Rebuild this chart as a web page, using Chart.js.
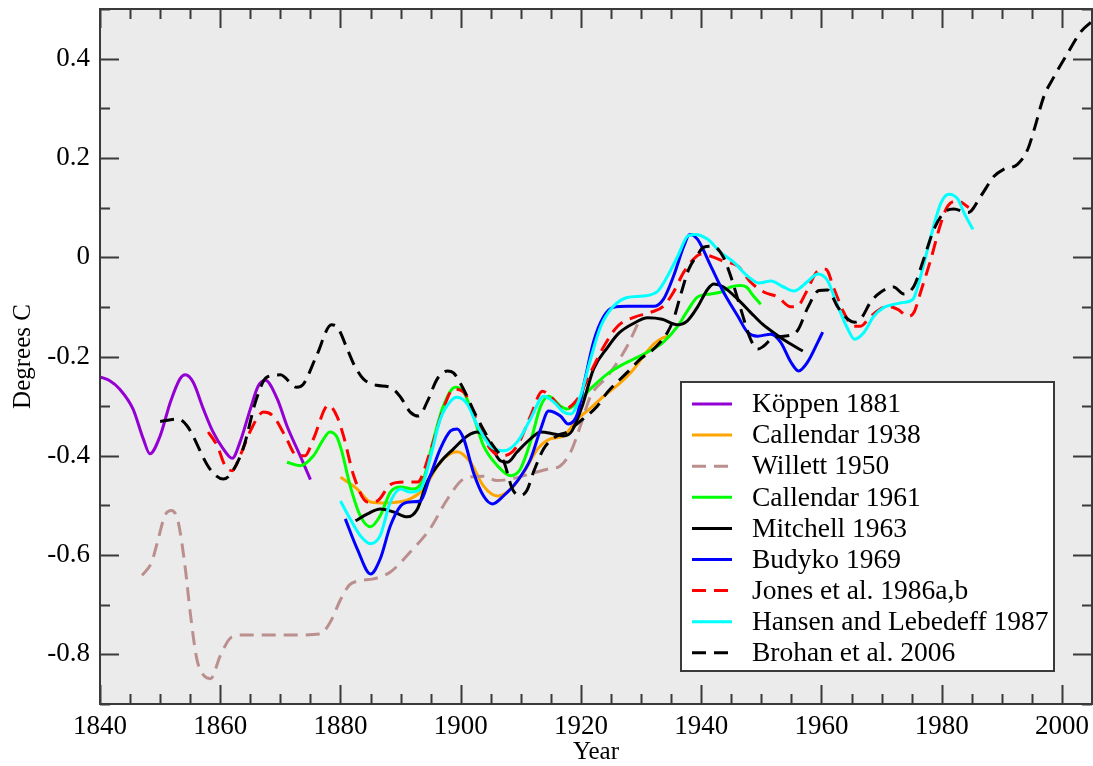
<!DOCTYPE html>
<html>
<head>
<meta charset="utf-8">
<script src="https://cdn.jsdelivr.net/npm/chart.js@4/dist/chart.umd.min.js"></script>
<style>
  html, body { margin: 0; padding: 0; background: #fff; }
  #wrap { width: 1093px; height: 766px; }
</style>
</head>
<body>
<div id="wrap"><canvas id="chart" width="1093" height="766"></canvas></div>
<script>
'use strict';

// ─── Data ────────────────────────────────────────────────────────
const xTickValues = [1840, 1860, 1880, 1900, 1920, 1940, 1960, 1980, 2000];
const yTickValues = [-0.8, -0.6, -0.4, -0.2, 0, 0.2, 0.4];

const koppenYears = [1840, 1841.5, 1843.3, 1845.5, 1847.2, 1848.3, 1850, 1851.7, 1853.3, 1854.2, 1855.5, 1857.2, 1858.8, 1860.5, 1862, 1863.3, 1865, 1866.3, 1867.5, 1869.5, 1871.1, 1873.3, 1875];
const koppenVals  = [-0.241, -0.248, -0.266, -0.306, -0.366, -0.396, -0.36, -0.292, -0.245, -0.237, -0.252, -0.306, -0.352, -0.386, -0.405, -0.372, -0.306, -0.26, -0.248, -0.286, -0.34, -0.4, -0.448];

const callendar38Years = [1880, 1882.8, 1885, 1887.8, 1891.6, 1893.8, 1896.6, 1899.4, 1901.6, 1903.8, 1906.1, 1908.3, 1910.5, 1912.8, 1914.9, 1917.1, 1919.4, 1921.5, 1923.8, 1926.6, 1928.8, 1930.4, 1932.1, 1933.7, 1934.8];
const callendar38Vals  = [-0.443, -0.467, -0.493, -0.495, -0.487, -0.467, -0.413, -0.392, -0.413, -0.461, -0.481, -0.467, -0.433, -0.386, -0.366, -0.36, -0.326, -0.305, -0.28, -0.252, -0.225, -0.199, -0.175, -0.162, -0.159];

const willettYears = [1847, 1848.6, 1849.7, 1850.8, 1851.9, 1853, 1854.2, 1855, 1856.1, 1857.3, 1858.4, 1860, 1861.9, 1863.8, 1868, 1873, 1876.6, 1878.3, 1880, 1881.5, 1883, 1885.5, 1888.3, 1891.6, 1894.9, 1897.8, 1900.5, 1903.8, 1906, 1909, 1912, 1914.4, 1916.6, 1918.3, 1919.9, 1921.6, 1924.4, 1927.7, 1929.6];
const willettVals  = [-0.641, -0.614, -0.567, -0.52, -0.51, -0.533, -0.628, -0.715, -0.809, -0.843, -0.849, -0.803, -0.765, -0.761, -0.761, -0.761, -0.759, -0.735, -0.69, -0.66, -0.652, -0.648, -0.634, -0.594, -0.547, -0.487, -0.447, -0.441, -0.45, -0.445, -0.435, -0.427, -0.42, -0.392, -0.34, -0.28, -0.24, -0.179, -0.13];

const callendar61Years = [1871.1, 1873.3, 1875.5, 1877, 1878.2, 1879.4, 1880.2, 1881.6, 1883.3, 1885, 1886.6, 1888.3, 1890, 1892.1, 1893.8, 1895.5, 1897.1, 1899.1, 1900.5, 1902.1, 1903.8, 1906.1, 1908.3, 1909.9, 1911.6, 1913.3, 1914.6, 1916.6, 1917.7, 1919.4, 1921.6, 1924.4, 1927.1, 1928.8, 1931.1, 1933.7, 1936.1, 1937.7, 1939.4, 1941.6, 1943.3, 1944.9, 1946.5, 1947.5, 1948.7, 1949.9];
const callendar61Vals  = [-0.413, -0.42, -0.4, -0.37, -0.352, -0.362, -0.39, -0.46, -0.521, -0.543, -0.521, -0.473, -0.463, -0.467, -0.447, -0.366, -0.3, -0.262, -0.272, -0.32, -0.38, -0.42, -0.44, -0.427, -0.372, -0.3, -0.28, -0.3, -0.306, -0.292, -0.265, -0.235, -0.215, -0.205, -0.191, -0.171, -0.139, -0.108, -0.08, -0.074, -0.07, -0.06, -0.057, -0.06, -0.078, -0.095];

const mitchellYears = [1882.5, 1884.5, 1886.6, 1888.8, 1891.1, 1892.8, 1894.4, 1896.6, 1898.8, 1901.1, 1902.8, 1904.4, 1906.6, 1907.8, 1909.4, 1911.6, 1913.3, 1915.5, 1917.1, 1918.5, 1920.2, 1922.1, 1924.4, 1926.3, 1928.8, 1931.1, 1933.5, 1936, 1937.7, 1939.4, 1941.1, 1942.1, 1943.7, 1946.1, 1948.2, 1950.2, 1952.4, 1954.6, 1956.9];
const mitchellVals  = [-0.531, -0.517, -0.507, -0.513, -0.523, -0.507, -0.453, -0.413, -0.386, -0.36, -0.352, -0.366, -0.41, -0.413, -0.392, -0.366, -0.352, -0.356, -0.36, -0.35, -0.3, -0.225, -0.182, -0.153, -0.133, -0.122, -0.125, -0.136, -0.128, -0.1, -0.064, -0.054, -0.06, -0.085, -0.111, -0.135, -0.155, -0.173, -0.189];

const budykoYears = [1880.8, 1882.8, 1885, 1886.6, 1888.3, 1890, 1891.6, 1893.3, 1894.9, 1896.6, 1898.3, 1899.4, 1900.5, 1902.1, 1903.8, 1905.3, 1907.1, 1909.4, 1911.6, 1913.3, 1914.6, 1916.6, 1917.9, 1919.4, 1920.6, 1922.1, 1923.8, 1925.4, 1927.7, 1929.9, 1932.1, 1933.7, 1935.4, 1937.1, 1938.1, 1939.4, 1941.6, 1943.7, 1946.1, 1947.7, 1949.4, 1951.6, 1953.2, 1954.9, 1956.2, 1957.7, 1959.4, 1960.2];
const budykoVals  = [-0.527, -0.588, -0.638, -0.608, -0.541, -0.501, -0.493, -0.491, -0.441, -0.386, -0.35, -0.346, -0.366, -0.433, -0.481, -0.497, -0.481, -0.451, -0.407, -0.346, -0.31, -0.32, -0.336, -0.316, -0.25, -0.17, -0.119, -0.101, -0.099, -0.099, -0.099, -0.085, -0.038, 0.022, 0.046, 0.036, -0.018, -0.07, -0.119, -0.151, -0.159, -0.155, -0.171, -0.211, -0.229, -0.211, -0.171, -0.151];

const jonesYears = [1858, 1859.5, 1860.8, 1862, 1863.3, 1865, 1867.2, 1868.8, 1870.8, 1872.8, 1874.1, 1875.5, 1878, 1879.4, 1880.5, 1882.2, 1884.5, 1886.1, 1888.3, 1890.5, 1892.8, 1894.9, 1897.1, 1898.8, 1900.5, 1902.8, 1904.9, 1907.1, 1909.4, 1911.6, 1913.6, 1914.9, 1917.1, 1919.4, 1921.6, 1923.8, 1926.1, 1928.8, 1931.6, 1933.7, 1935.4, 1937.1, 1938.7, 1939.9, 1941.6, 1943.7, 1946.1, 1948.2, 1950.4, 1952.7, 1954.9, 1956, 1957.4, 1959.2, 1960.7, 1962.1, 1963.7, 1965.4, 1966.5, 1968.2, 1971, 1972.7, 1974.4, 1975.4, 1976.5, 1978.2, 1979.9, 1981, 1982.7, 1984.5];
const jonesVals  = [-0.352, -0.38, -0.42, -0.43, -0.4, -0.35, -0.312, -0.32, -0.36, -0.4, -0.4, -0.366, -0.298, -0.32, -0.36, -0.44, -0.493, -0.491, -0.458, -0.453, -0.453, -0.392, -0.306, -0.266, -0.272, -0.332, -0.386, -0.4, -0.38, -0.32, -0.27, -0.28, -0.306, -0.286, -0.232, -0.18, -0.139, -0.121, -0.111, -0.099, -0.07, -0.03, -0.004, 0.006, 0.002, -0.008, -0.018, -0.05, -0.07, -0.08, -0.1, -0.099, -0.072, -0.03, -0.024, -0.064, -0.111, -0.139, -0.139, -0.119, -0.099, -0.105, -0.119, -0.111, -0.07, -0.004, 0.07, 0.103, 0.113, 0.1];

const hansenYears = [1880, 1881.6, 1883.3, 1885, 1886.6, 1888.3, 1890, 1891.6, 1893.3, 1894.9, 1896.6, 1898.3, 1899.4, 1901.1, 1902.8, 1904.9, 1907.1, 1909.4, 1911.6, 1913.8, 1915.5, 1917.1, 1918.3, 1919.9, 1921.6, 1923.3, 1925.4, 1927.7, 1930.4, 1932.8, 1934.4, 1936.1, 1937.7, 1939, 1941.1, 1943.2, 1945.4, 1947.7, 1949.6, 1951.6, 1953.7, 1955.4, 1957.7, 1959.4, 1961, 1962.7, 1964.4, 1965.5, 1967.1, 1968.7, 1970.4, 1972, 1973.7, 1975.2, 1976.5, 1978.2, 1979.9, 1981.2, 1982.7, 1983.7, 1985.2];
const hansenVals  = [-0.491, -0.527, -0.561, -0.577, -0.561, -0.493, -0.467, -0.473, -0.467, -0.406, -0.326, -0.29, -0.282, -0.296, -0.34, -0.38, -0.39, -0.372, -0.326, -0.28, -0.292, -0.312, -0.316, -0.28, -0.205, -0.139, -0.099, -0.081, -0.078, -0.068, -0.038, 0.002, 0.042, 0.046, 0.036, 0.01, -0.01, -0.038, -0.052, -0.048, -0.06, -0.068, -0.049, -0.034, -0.047, -0.098, -0.145, -0.165, -0.151, -0.119, -0.101, -0.095, -0.091, -0.085, -0.038, 0.042, 0.11, 0.127, 0.117, 0.09, 0.056];

const brohanYears = [1850, 1853, 1854.5, 1858.3, 1860.5, 1861.5, 1863.8, 1866, 1867.7, 1870, 1872.7, 1873.8, 1876, 1878.5, 1879.4, 1881.3, 1882.2, 1883.8, 1886, 1888.3, 1890, 1891.6, 1893, 1894.4, 1896.1, 1897.8, 1898.8, 1900.3, 1902.5, 1905, 1907.2, 1908.6, 1909.9, 1911, 1912.1, 1913.8, 1916, 1917.7, 1919.4, 1922.7, 1924.4, 1927.7, 1929.9, 1932.1, 1934.4, 1935.4, 1936.6, 1937.9, 1939.4, 1940.4, 1942, 1943.7, 1944.9, 1946.6, 1948.2, 1949.4, 1950.4, 1952.1, 1953.7, 1956, 1957.7, 1959.6, 1961, 1962.7, 1964.4, 1965.5, 1966.5, 1968.2, 1969.9, 1972, 1973.7, 1975.4, 1977, 1978.7, 1980.4, 1982, 1984.4, 1986.5, 1988.7, 1990.3, 1992.6, 1994.3, 1995.4, 1997, 1998.7, 2001, 2003.2, 2004.8];
const brohanVals  = [-0.331, -0.326, -0.34, -0.427, -0.447, -0.44, -0.386, -0.286, -0.242, -0.237, -0.262, -0.256, -0.199, -0.136, -0.14, -0.19, -0.215, -0.245, -0.258, -0.262, -0.282, -0.312, -0.32, -0.292, -0.245, -0.229, -0.233, -0.262, -0.318, -0.373, -0.413, -0.467, -0.48, -0.47, -0.433, -0.386, -0.36, -0.352, -0.335, -0.3, -0.272, -0.232, -0.205, -0.185, -0.151, -0.125, -0.075, -0.025, 0.005, 0.02, 0.022, 0, -0.038, -0.105, -0.165, -0.185, -0.179, -0.161, -0.159, -0.148, -0.102, -0.067, -0.066, -0.1, -0.125, -0.131, -0.125, -0.09, -0.07, -0.06, -0.074, -0.058, -0.004, 0.056, 0.09, 0.097, 0.09, 0.123, 0.163, 0.177, 0.187, 0.217, 0.258, 0.324, 0.364, 0.412, 0.455, 0.473];

const seriesLabels = ['Köppen 1881', 'Callendar 1938', 'Willett 1950', 'Callendar 1961', 'Mitchell 1963',
  'Budyko 1969', 'Jones et al. 1986a,b', 'Hansen and Lebedeff 1987', 'Brohan et al. 2006'];
const seriesYears = [koppenYears, callendar38Years, willettYears, callendar61Years, mitchellYears,
  budykoYears, jonesYears, hansenYears, brohanYears];
const seriesVals = [koppenVals, callendar38Vals, willettVals, callendar61Vals, mitchellVals,
  budykoVals, jonesVals, hansenVals, brohanVals];
const seriesColors = ['#9400d3', '#ffa500', '#bc8f8f', '#00ff00', '#000000', '#0000ff', '#ff0000', '#00ffff', '#000000'];
const seriesDashed = [false, false, true, false, false, false, true, false, true];

// ─── Helpers ──────────────────────────────────────────────────────
const SERIF = '"Liberation Serif", "DejaVu Serif", serif';
const DASH = [14, 8];

function toPoints(xs, ys) {
  return xs.map((x, i) => ({ x, y: ys[i] }));
}

function fmtY(v) {
  if (Math.abs(v) < 1e-9) return '0';
  return v.toFixed(1);
}

// plot area background
const plotBg = {
  id: 'plotBg',
  beforeDatasetsDraw(chart) {
    const { ctx, chartArea: a } = chart;
    ctx.save();
    ctx.fillStyle = '#ebebeb';
    ctx.fillRect(a.left, a.top, a.right - a.left, a.bottom - a.top);
    ctx.restore();
  },
};

// frame + inward ticks on all four sides (Grace style)
const frameTicks = {
  id: 'frameTicks',
  afterDatasetsDraw(chart) {
    const { ctx, chartArea: a, scales } = chart;
    const xs = scales.x, ys = scales.y;
    ctx.save();
    ctx.strokeStyle = '#3a3a3a';
    ctx.lineWidth = 2;
    ctx.beginPath();
    for (let yr = xs.min; yr <= xs.max + 1e-6; yr += 5) {
      const px = Math.round(xs.getPixelForValue(yr)) + 0.5;
      const len = yr % 20 === 0 ? 19 : 10;
      ctx.moveTo(px, a.bottom); ctx.lineTo(px, a.bottom - len);
      ctx.moveTo(px, a.top); ctx.lineTo(px, a.top + len);
    }
    for (let k = -9; k <= 5; k++) {
      const py = Math.round(ys.getPixelForValue(k / 10)) + 0.5;
      const len = k % 2 === 0 ? 19 : 10;
      ctx.moveTo(a.left, py); ctx.lineTo(a.left + len, py);
      ctx.moveTo(a.right, py); ctx.lineTo(a.right - len, py);
    }
    ctx.stroke();
    ctx.strokeRect(a.left, a.top, a.right - a.left, a.bottom - a.top);
    ctx.restore();
  },
};

// legend box drawn inside the plot, built from the datasets
const boxLegend = {
  id: 'boxLegend',
  afterDatasetsDraw(chart) {
    const { ctx } = chart;
    const ds = chart.data.datasets;
    const left = 681, top = 382, w = 373, h = 289;
    ctx.save();
    ctx.fillStyle = '#ffffff';
    ctx.fillRect(left, top, w, h);
    ctx.strokeStyle = '#3a3a3a';
    ctx.lineWidth = 2;
    ctx.strokeRect(left, top, w, h);
    ctx.font = '27.5px ' + SERIF;
    ctx.textBaseline = 'middle';
    ctx.textAlign = 'left';
    ds.forEach((d, i) => {
      const cy = 404 + i * 31.1;
      ctx.beginPath();
      ctx.setLineDash(d.borderDash || []);
      ctx.strokeStyle = d.borderColor;
      ctx.lineWidth = 3;
      ctx.moveTo(692, cy); ctx.lineTo(732, cy);
      ctx.stroke();
      ctx.setLineDash([]);
      ctx.fillStyle = '#000';
      ctx.fillText(d.label, 752, cy + 1);
    });
    ctx.restore();
  },
};

const datasets = seriesLabels.map((label, i) => ({
  label,
  data: toPoints(seriesYears[i], seriesVals[i]),
  borderColor: seriesColors[i],
  borderWidth: 3,
  borderDash: seriesDashed[i] ? DASH : [],
  borderCapStyle: 'butt',
  borderJoinStyle: 'round',
  pointRadius: 0,
  fill: false,
  cubicInterpolationMode: 'monotone',
  order: -i,
}));

new Chart(document.getElementById('chart').getContext('2d'), {
  type: 'line',
  data: { datasets },
  options: {
    responsive: false,
    animation: false,
    layout: { padding: { top: 9, right: 1, left: 0, bottom: 0 } },
    plugins: { legend: { display: false }, tooltip: { enabled: false } },
    scales: {
      x: {
        type: 'linear',
        min: 1840,
        max: 2005,
        grid: { display: false, drawTicks: false },
        border: { display: false },
        afterBuildTicks: s => { s.ticks = xTickValues.map(v => ({ value: v })); },
        afterFit: s => { s.height = 62; s.paddingLeft = 0; s.paddingRight = 0; },
        ticks: { color: '#000', font: { family: SERIF, size: 27 }, padding: 7, maxRotation: 0, autoSkip: false, callback: v => String(v) },
        title: { display: true, text: 'Year', color: '#000', font: { family: SERIF, size: 25, lineHeight: 1.1 }, padding: { top: 0, bottom: 0 } },
      },
      y: {
        min: -0.9,
        max: 0.5,
        grid: { display: false, drawTicks: false },
        border: { display: false },
        afterBuildTicks: s => { s.ticks = yTickValues.map(v => ({ value: v })); },
        afterFit: s => { s.width = 100; s.paddingTop = 0; s.paddingBottom = 0; },
        ticks: { color: '#000', font: { family: SERIF, size: 27 }, padding: 10, callback: v => fmtY(v) },
        title: { display: true, text: 'Degrees C', color: '#000', font: { family: SERIF, size: 25 }, padding: { top: 8, bottom: 4 } },
      },
    },
  },
  plugins: [plotBg, frameTicks, boxLegend],
});
</script>
</body>
</html>
